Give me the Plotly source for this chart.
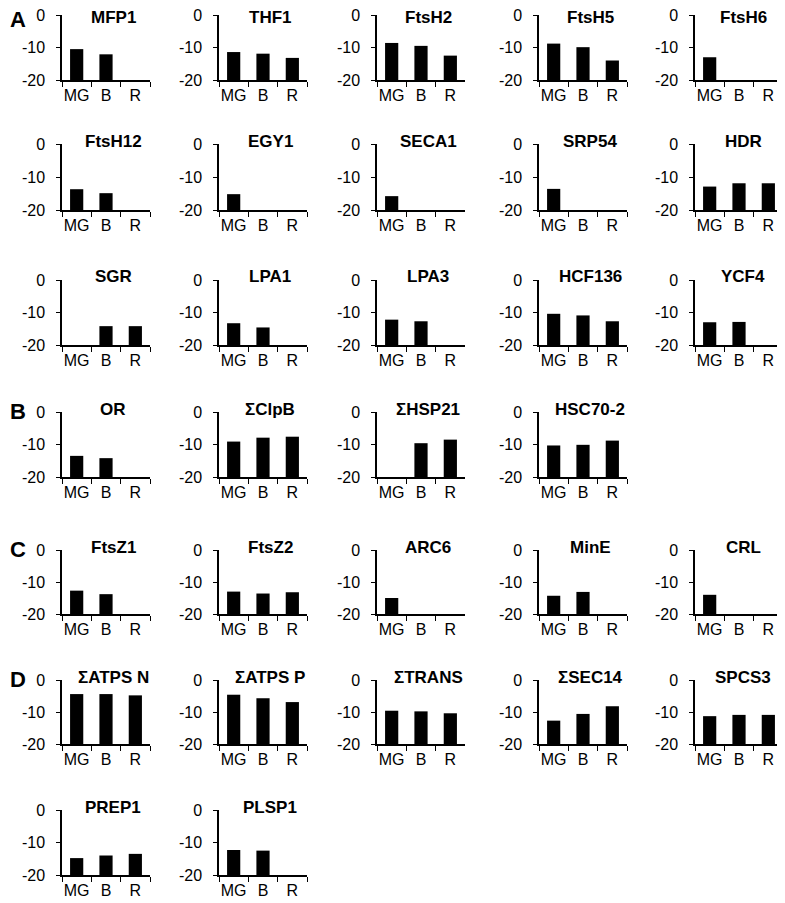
import plotly.graph_objects as go

# page window size; the page body adds an 8 px margin around the figure
PAGE_W, PAGE_H = 785, 903
OFF = 8
W, H = PAGE_W - OFF, PAGE_H - OFF

STAGES = ["MG", "B", "R"]
Y_TICKS = [0, -10, -20]
Y_TICK_LABELS = ["0", "-10", "-20"]

# Row A
MFP1 = [-10.5, -12.1, None]
THF1 = [-11.4, -11.9, -13.2]
FtsH2 = [-8.6, -9.5, -12.5]
FtsH5 = [-8.8, -9.9, -14.0]
FtsH6 = [-13.0, None, None]
FtsH12 = [-13.7, -14.9, None]
EGY1 = [-15.2, None, None]
SECA1 = [-15.8, None, None]
SRP54 = [-13.6, None, None]
HDR = [-12.9, -11.9, -11.9]
SGR = [None, -14.2, -14.2]
LPA1 = [-13.3, -14.6, None]
LPA3 = [-12.2, -12.7, None]
HCF136 = [-10.4, -10.9, -12.7]
YCF4 = [-13.0, -12.9, None]
# Row B
OR = [-13.5, -14.2, None]
ClpB = [-9.1, -7.9, -7.6]
HSP21 = [None, -9.6, -8.5]
HSC70_2 = [-10.3, -10.1, -8.8]
# Row C
FtsZ1 = [-12.7, -13.8, None]
FtsZ2 = [-13.0, -13.6, -13.2]
ARC6 = [-15.0, None, None]
MinE = [-14.3, -13.1, None]
CRL = [-14.0, None, None]
# Row D
ATPS_N = [-4.4, -4.4, -4.8]
ATPS_P = [-4.6, -5.7, -6.9]
TRANS = [-9.6, -9.8, -10.4]
SEC14 = [-12.7, -10.6, -8.2]
SPCS3 = [-11.3, -10.9, -10.9]
PREP1 = [-14.8, -14.0, -13.5]
PLSP1 = [-12.3, -12.5, None]

ROWS = [
    [("MFP1", MFP1), ("THF1", THF1), ("FtsH2", FtsH2), ("FtsH5", FtsH5), ("FtsH6", FtsH6)],
    [("FtsH12", FtsH12), ("EGY1", EGY1), ("SECA1", SECA1), ("SRP54", SRP54), ("HDR", HDR)],
    [("SGR", SGR), ("LPA1", LPA1), ("LPA3", LPA3), ("HCF136", HCF136), ("YCF4", YCF4)],
    [("OR", OR), ("ΣClpB", ClpB), ("ΣHSP21", HSP21), ("HSC70-2", HSC70_2)],
    [("FtsZ1", FtsZ1), ("FtsZ2", FtsZ2), ("ARC6", ARC6), ("MinE", MinE), ("CRL", CRL)],
    [("ΣATPS N", ATPS_N), ("ΣATPS P", ATPS_P), ("ΣTRANS", TRANS), ("ΣSEC14", SEC14), ("SPCS3", SPCS3)],
    [("PREP1", PREP1), ("PLSP1", PLSP1)],
]
PANEL_LETTERS = {0: "A", 3: "B", 4: "C", 5: "D"}

# positions on the page (px)
COL_LEFT = [62, 219, 377, 539, 695]
PLOT_W = 88
ROW_TOP = [15, 144, 280, 412, 550, 680, 810]
ROW_BOT = [80, 210, 345, 477, 614, 744, 875]

FONT = "Liberation Sans, Arial, sans-serif"


def px(x):
    return (x - OFF) / W


def py(y):
    return 1 - (y - OFF) / H


fig = go.Figure()
annotations = []
idx = 0
for r, row in enumerate(ROWS):
    for c, (name, vals) in enumerate(row):
        idx += 1
        sfx = "" if idx == 1 else str(idx)
        x0, x1 = COL_LEFT[c], COL_LEFT[c] + PLOT_W
        yt, yb = ROW_TOP[r], ROW_BOT[r]
        fig.add_trace(go.Bar(
            x=STAGES,
            y=[None if v is None else v - Y_TICKS[-1] for v in vals],
            base=Y_TICKS[-1],
            marker=dict(color="black", line=dict(width=0)),
            width=0.45,
            xaxis="x" + sfx, yaxis="y" + sfx,
            showlegend=False,
        ))
        fig.layout["xaxis" + sfx] = dict(
            domain=[px(x0), px(x1)], anchor="y" + sfx, automargin=False,
            type="category", categoryorder="array", categoryarray=STAGES,
            range=[-0.5, 2.5], tickson="boundaries", tickangle=0,
            ticks="outside", ticklen=5, tickwidth=1.3, tickcolor="black",
            showline=True, linecolor="black", linewidth=1.5,
            showgrid=False, zeroline=False, fixedrange=True,
            ticklabeloverflow="allow",
            tickfont=dict(family=FONT, size=16, color="black"),
        )
        fig.layout["yaxis" + sfx] = dict(
            domain=[py(yb), py(yt)], anchor="x" + sfx, automargin=False,
            range=[Y_TICKS[-1], Y_TICKS[0]],
            tickvals=Y_TICKS, ticktext=Y_TICK_LABELS,
            ticks="outside", ticklen=4, tickwidth=1.3, tickcolor="black",
            ticklabelstandoff=8, ticklabeloverflow="allow",
            showline=True, linecolor="black", linewidth=1.5,
            showgrid=False, zeroline=False, fixedrange=True,
            tickfont=dict(family=FONT, size=16, color="black"),
        )
        off = 4 if c == 4 else 7
        ty = yt - 3 if r > 0 else 17
        annotations.append(dict(
            text="<b>" + name + "</b>", xref="paper", yref="paper",
            x=px((x0 + x1) / 2 + off), y=py(ty),
            xanchor="center", yanchor="middle", showarrow=False,
            font=dict(family=FONT, size=17, color="black"),
        ))
    if r in PANEL_LETTERS:
        ly = 20 if r == 0 else ROW_TOP[r] - 1
        annotations.append(dict(
            text="<b>" + PANEL_LETTERS[r] + "</b>", xref="paper", yref="paper",
            x=px(18), y=py(ly),
            xanchor="center", yanchor="middle", showarrow=False,
            font=dict(family=FONT, size=22, color="black"),
        ))

fig.update_layout(
    template="none",
    width=W, height=H, autosize=False,
    margin=dict(l=0, r=0, t=0, b=0, pad=0),
    paper_bgcolor="white", plot_bgcolor="white",
    annotations=annotations, bargap=0.55,
)

fig.write_html("out.html")
